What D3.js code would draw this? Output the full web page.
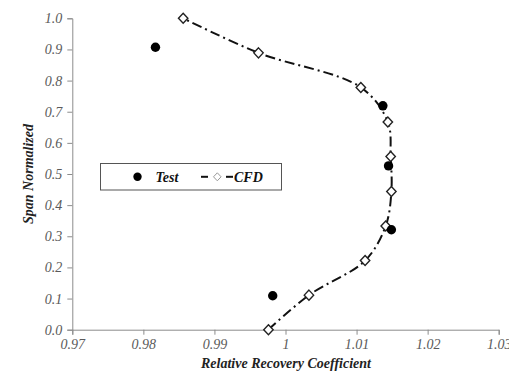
<!DOCTYPE html>
<html><head><meta charset="utf-8">
<script src="https://cdn.jsdelivr.net/npm/d3@7/dist/d3.min.js"></script>
<style>body{margin:0;background:#fff}svg{display:block}</style>
</head><body>
<script>
const testX = [0.9817, 1.0137, 1.0145, 1.0149, 0.9982];
const testY = [0.907, 0.719, 0.526, 0.321, 0.109];
const cfdX = [0.9976, 1.0033, 1.0112, 1.0141, 1.0149, 1.0148, 1.0144, 1.0106, 0.9962, 0.9856];
const cfdY = [0.0, 0.111, 0.222, 0.333, 0.444, 0.556, 0.667, 0.778, 0.889, 1.0];
const xTicks = [0.97, 0.98, 0.99, 1.0, 1.01, 1.02, 1.03];
const xTickLabels = ["0.97", "0.98", "0.99", "1", "1.01", "1.02", "1.03"];
const yTicks = [0.0, 0.1, 0.2, 0.3, 0.4, 0.5, 0.6, 0.7, 0.8, 0.9, 1.0];
const seriesNames = ["Test", "CFD"];

const W = 509, H = 372;
const svg = d3.select("body").append("svg").attr("width", W).attr("height", H);
const x = d3.scaleLinear().domain([0.97, 1.03]).range([72.3, 498.7]);
const y = d3.scaleLinear().domain([0, 1]).range([329.7, 18.3]);
const font = "Liberation Serif";
const axisColor = "#8c8c8c", labelColor = "#5a5a5a";
function tf(sel, size, bold) {
  sel.attr("font-family", font).attr("font-style", "italic")
     .attr("font-weight", bold ? "bold" : "normal").attr("font-size", size);
}

// axes
const xAxis = svg.append("g").attr("transform", `translate(0,${y(0)})`)
  .call(d3.axisBottom(x).tickValues(xTicks).tickSize(5).tickPadding(4)
    .tickFormat((d, i) => xTickLabels[i]));
const yAxis = svg.append("g").attr("transform", `translate(${x(0.97)},0)`)
  .call(d3.axisLeft(y).tickValues(yTicks).tickSize(5).tickPadding(5)
    .tickFormat(d3.format(".1f")));
[xAxis, yAxis].forEach(g => {
  g.attr("font-family", font);
  g.select(".domain").attr("stroke", axisColor).attr("stroke-width", 1);
  g.selectAll(".tick line").attr("stroke", axisColor);
  g.selectAll(".tick text").attr("fill", labelColor).call(tf, 14, false);
});

// CFD line
const cfd = cfdX.map((v, i) => [v, cfdY[i]]);
svg.append("path").datum(cfd)
  .attr("d", d3.line().x(d => x(d[0])).y(d => y(d[1])).curve(d3.curveCatmullRom))
  .attr("fill", "none").attr("stroke", "#111").attr("stroke-width", 2)
  .attr("stroke-dasharray", "10,4,2,4");

const diamondPath = "M0,-5L4.7,0L0,5L-4.7,0Z";
svg.append("g").selectAll("path").data(cfd).join("path")
  .attr("d", diamondPath)
  .attr("transform", d => `translate(${x(d[0])},${y(d[1])})`)
  .attr("fill", "#fff").attr("stroke", "#222").attr("stroke-width", 1.4);

// Test points
const test = testX.map((v, i) => [v, testY[i]]);
svg.append("g").selectAll("circle").data(test).join("circle")
  .attr("cx", d => x(d[0])).attr("cy", d => y(d[1])).attr("r", 4.7)
  .attr("fill", "#000");

// Legend
const lg = svg.append("g");
lg.append("rect").attr("x", 100.5).attr("y", 163.5).attr("width", 181).attr("height", 26.5)
  .attr("fill", "#fff").attr("stroke", "#555").attr("stroke-width", 1);
lg.append("circle").attr("cx", 137.5).attr("cy", 176.8).attr("r", 4.2).attr("fill", "#000");
lg.append("text").attr("x", 155.5).attr("y", 181.5).text(seriesNames[0]).attr("fill", "#111").call(tf, 14, true);
lg.append("line").attr("x1", 201).attr("x2", 208).attr("y1", 176.8).attr("y2", 176.8)
  .attr("stroke", "#111").attr("stroke-width", 2);
lg.append("line").attr("x1", 226).attr("x2", 233).attr("y1", 176.8).attr("y2", 176.8)
  .attr("stroke", "#111").attr("stroke-width", 2);
lg.append("path").attr("d", "M0,-4L3.8,0L0,4L-3.8,0Z")
  .attr("transform", `translate(217.3,176.8)`)
  .attr("fill", "#fff").attr("stroke", "#999").attr("stroke-width", 1);
lg.append("text").attr("x", 234).attr("y", 181.5).text(seriesNames[1]).attr("fill", "#111").call(tf, 14, true);

// Axis titles
svg.append("text").attr("x", 286).attr("y", 368).attr("text-anchor", "middle")
  .text("Relative Recovery Coefficient").attr("fill", "#222").call(tf, 14, true);
svg.append("text").attr("transform", "translate(33,174) rotate(-90)").attr("text-anchor", "middle")
  .text("Span Normalized").attr("fill", "#222").call(tf, 14, true);
</script>
</body></html>
